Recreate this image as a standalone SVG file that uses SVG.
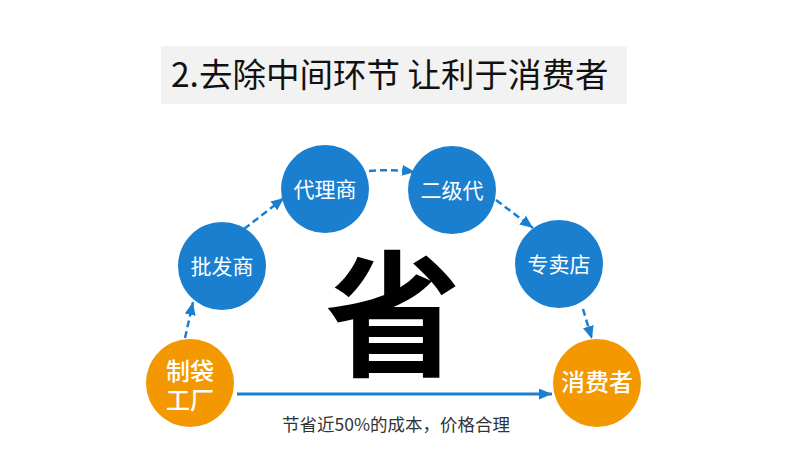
<svg xmlns="http://www.w3.org/2000/svg" width="790" height="474" viewBox="0 0 790 474">
<defs>
<style>
.blue{fill:#1b7fcf}
.orange{fill:#f39800}
.lbl{font-family:"Noto Sans CJK SC","Noto Sans",sans-serif;fill:#fff;text-anchor:middle}
.dash{fill:none;stroke:#1b7fcf;stroke-width:2.5;stroke-dasharray:7 4}
.solid{fill:none;stroke:#1b7fcf;stroke-width:3}
</style>
<marker id="ah" markerUnits="userSpaceOnUse" markerWidth="13" markerHeight="11" refX="13" refY="5.5" orient="auto">
<path d="M0,0 L13,5.5 L0,11 z" fill="#1b7fcf"/>
</marker>
</defs>
<rect width="790" height="474" fill="#fff"/>
<g id="title">
<rect x="161" y="46" width="466" height="58" fill="#f2f2f2"/>
<text x="171" y="87" font-family="Noto Sans CJK SC,Noto Sans,sans-serif" font-size="33.5" fill="#111">2.去除中间环节 让利于消费者</text>
</g>
<g id="connectors">
<path class="dash" d="M185,338 L193,302" marker-end="url(#ah)"/>
<path class="dash" d="M244,229 L284,198" marker-end="url(#ah)"/>
<path class="dash" d="M369,171 Q392,169 415,172" marker-end="url(#ah)"/>
<path class="dash" d="M496,200 L533,228" marker-end="url(#ah)"/>
<path class="dash" d="M583,309 L592,339" marker-end="url(#ah)"/>
<path class="solid" d="M237,394 L552,394" marker-end="url(#ah)"/>
</g>
<g id="node-pifa">
<circle class="blue" cx="222" cy="266" r="44"/>
<text class="lbl" x="222" y="274" font-size="21">批发商</text>
</g>
<g id="node-daili">
<circle class="blue" cx="325" cy="189" r="44"/>
<text class="lbl" x="325" y="197" font-size="21">代理商</text>
</g>
<g id="node-erji">
<circle class="blue" cx="452" cy="190" r="44"/>
<text class="lbl" x="452" y="198" font-size="21">二级代</text>
</g>
<g id="node-zhuanmai">
<circle class="blue" cx="559" cy="264" r="44"/>
<text class="lbl" x="559" y="272" font-size="21">专卖店</text>
</g>
<g id="node-factory">
<circle class="orange" cx="190" cy="383" r="44"/>
<text class="lbl" font-size="24" font-weight="500"><tspan x="190" y="380">制袋</tspan><tspan x="190" y="409">工厂</tspan></text>
</g>
<g id="node-consumer">
<circle class="orange" cx="597" cy="383" r="44"/>
<text class="lbl" x="597" y="391" font-size="24" font-weight="500">消费者</text>
</g>
<text id="big" x="393" y="366" font-family="Noto Sans CJK SC,sans-serif" font-size="136" font-weight="bold" text-anchor="middle" fill="#000">省</text>
<text id="caption" x="396" y="431" font-family="Noto Sans CJK SC,Noto Sans,sans-serif" font-size="17.5" text-anchor="middle" fill="#333">节省近50%的成本，价格合理</text>
</svg>
